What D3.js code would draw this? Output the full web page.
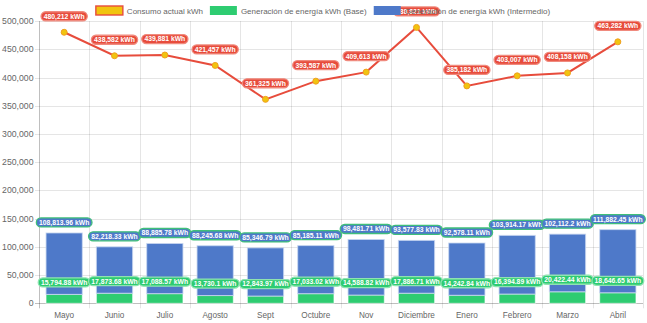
<!DOCTYPE html>
<html><head><meta charset="utf-8">
<script src="https://cdn.jsdelivr.net/npm/d3@7"></script>
<style>
html,body{margin:0;padding:0;background:#fff;}
svg{display:block;font-family:"Liberation Sans",Arial,Helvetica,sans-serif;}
</style></head>
<body><svg id="c" width="647" height="323"></svg>
<script>
const months = ["Mayo","Junio","Julio","Agosto","Sept","Octubre","Nov","Diciembre","Enero","Febrero","Marzo","Abril"];
const consumo = [480212,438582,439881,421457,361325,393587,409613,488821,385182,403007,408158,463282];
const base = [15794.88,17873.68,17088.57,13730.1,12843.97,17033.02,14588.82,17886.71,14242.84,16394.89,20422.44,18646.65];
const intermedio = [108813.96,82218.33,88885.78,88245.68,85346.79,85185.11,98481.71,93577.83,92578.11,103914.17,102112.2,111882.45];
const yTicks = [0,50000,100000,150000,200000,250000,300000,350000,400000,450000,500000];
const seriesNames = ["Consumo actual kWh","Generación de energía kWh (Base)","Generación de energía kWh (Intermedio)"];

const RED="#e74c3c", YEL="#f1c40f", GREEN="#2ecc71", BLUE="#4e79c9";
const svg = d3.select("#c");
const L=39, R=643, T=21.1, B=303.3;
const x = d3.scaleBand().domain(months).range([L,R]).padding(0);
const y = d3.scaleLinear().domain([0,500000]).range([B,T]);
const fmt = v => v.toLocaleString("en-US",{maximumFractionDigits:2}) + " kWh";

// grid
const g = svg.append("g");
yTicks.forEach(t=>{
  g.append("line").attr("x1",L-4).attr("x2",R).attr("y1",Math.round(y(t))+0.5).attr("y2",Math.round(y(t))+0.5)
   .attr("stroke", t===0?"rgba(0,0,0,0.25)":"rgba(0,0,0,0.1)");
  g.append("text").attr("x",L-5.5).attr("y",y(t)+3).attr("text-anchor","end").attr("font-size",8.7).attr("fill","#666")
   .text(d3.format(",")(t));
});
const bounds = months.map(m=>x(m)).concat([R]);
bounds.forEach((bx,i)=>{
  g.append("line").attr("x1",Math.round(bx)+0.5).attr("x2",Math.round(bx)+0.5).attr("y1",T).attr("y2",B+5)
   .attr("stroke", i===0?"rgba(0,0,0,0.25)":"rgba(0,0,0,0.1)");
});
months.forEach(m=>{
  g.append("text").attr("x",x(m)+x.bandwidth()/2).attr("y",318).attr("text-anchor","middle").attr("font-size",8.2).attr("fill","#666").text(m);
});

// bars
const bw = x.bandwidth()*0.72;
const bars = svg.append("g");
months.forEach((m,i)=>{
  const cx = x(m)+x.bandwidth()/2;
  bars.append("rect").attr("x",cx-bw/2).attr("width",bw).attr("y",y(base[i])).attr("height",B-y(base[i]))
    .attr("fill",GREEN).attr("stroke","rgba(255,255,255,0.6)").attr("stroke-width",1);
  bars.append("rect").attr("x",cx-bw/2).attr("width",bw).attr("y",y(base[i]+intermedio[i])).attr("height",y(base[i])-y(base[i]+intermedio[i]))
    .attr("fill",BLUE).attr("stroke","rgba(200,215,240,0.8)").attr("stroke-width",1);
});

// line
const pts = months.map((m,i)=>[x(m)+x.bandwidth()/2, y(consumo[i])]);
svg.append("path").attr("d",d3.line()(pts)).attr("fill","none").attr("stroke",RED).attr("stroke-width",2);
pts.forEach(p=>svg.append("circle").attr("cx",p[0]).attr("cy",p[1]).attr("r",3).attr("fill",YEL).attr("stroke","#f0a020").attr("stroke-width",1));

// data labels
const lab = svg.append("g");
function label(cx, topY, text, fill, border){
  const t = lab.append("text").attr("font-size",6.8).attr("font-weight","bold").attr("fill","#fff").attr("text-anchor","middle").text(text);
  const w = t.node().getComputedTextLength()+5.4, h=9;
  const cy = topY - 7.5 - h/2;
  lab.insert("rect","text:last-child").attr("x",cx-w/2).attr("y",cy-h/2).attr("width",w).attr("height",h).attr("rx",4.5)
    .attr("fill",fill).attr("stroke",border).attr("stroke-width",1.3);
  t.attr("x",cx).attr("y",cy+2.4);
  t.raise();
}
months.forEach((m,i)=>{
  const cx = x(m)+x.bandwidth()/2;
  label(cx, y(base[i]), fmt(base[i]), GREEN, "#8fe3b1");
  label(cx, y(base[i]+intermedio[i]) + 1.5, fmt(intermedio[i]), BLUE, "#3fbf7a");
});
months.forEach((m,i)=>{
  label(pts[i][0], pts[i][1]-4, fmt(consumo[i]), RED, "#f08a7e");
});

// legend
const leg = svg.append("g");
const items = [{f:YEL,s:RED},{f:GREEN,s:"none"},{f:BLUE,s:"none"}];
let widths = seriesNames.map(n=>{
  const t = leg.append("text").attr("font-size",8).text(n); const w=t.node().getComputedTextLength(); t.remove(); return w;});
const boxW=27, gap=4, itemGap=7;
const total = d3.sum(widths)+seriesNames.length*(boxW+gap)+itemGap*(seriesNames.length-1);
let lx = 323 - total/2;
seriesNames.forEach((n,i)=>{
  leg.append("rect").attr("x",lx).attr("y",6).attr("width",boxW).attr("height",9).attr("fill",items[i].f)
    .attr("stroke",items[i].s).attr("stroke-width",items[i].s==="none"?0:1.4);
  leg.append("text").attr("x",lx+boxW+gap).attr("y",13.5).attr("font-size",8).attr("fill","#666").text(n);
  lx += boxW+gap+widths[i]+itemGap;
});
</script></body></html>
